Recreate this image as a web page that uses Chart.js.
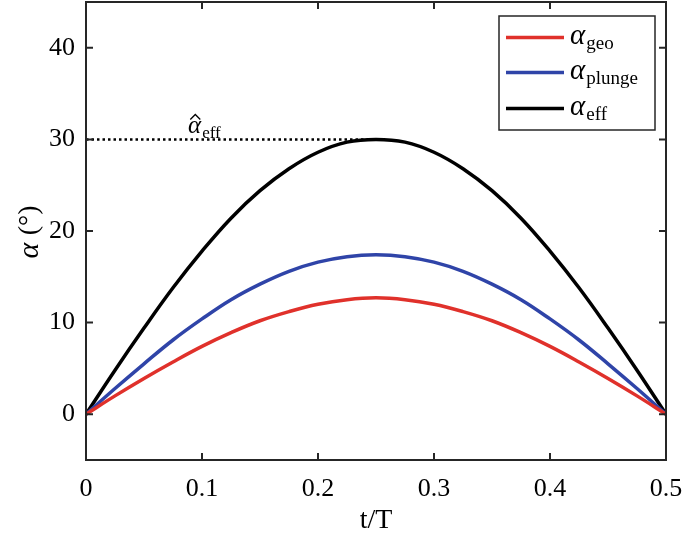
<!DOCTYPE html>
<html>
<head>
<meta charset="utf-8">
<script src="https://cdn.jsdelivr.net/npm/chart.js@4"></script>
<style>
  html, body { margin: 0; padding: 0; background: #fff; }
  #wrap { width: 685px; height: 547px; }
</style>
</head>
<body>
<div id="wrap"><canvas id="chart" width="685" height="547"></canvas></div>
<script>
// time samples over half a period (t/T)
const tValues = [0, 0.025, 0.05, 0.075, 0.1, 0.125, 0.15, 0.175, 0.2, 0.225, 0.25,
                 0.275, 0.3, 0.325, 0.35, 0.375, 0.4, 0.425, 0.45, 0.475, 0.5];
// angles in degrees
const geoValues    = [0, 2.0, 3.9, 5.7, 7.4, 8.9, 10.2, 11.2, 12.0, 12.5, 12.7,
                      12.5, 12.0, 11.2, 10.2, 8.9, 7.4, 5.7, 3.9, 2.0, 0];
const plungeValues = [0, 2.8, 5.5, 8.1, 10.4, 12.5, 14.2, 15.6, 16.6, 17.2, 17.4,
                      17.2, 16.6, 15.6, 14.2, 12.5, 10.4, 8.1, 5.5, 2.8, 0];
const effValues    = [0, 4.8, 9.4, 13.8, 17.8, 21.4, 24.4, 26.8, 28.6, 29.7, 30.0,
                      29.7, 28.6, 26.8, 24.4, 21.4, 17.8, 13.8, 9.4, 4.8, 0];
// dotted line marking the peak effective angle
const peakLineT = [0, 0.25];
const peakLineValues = [30, 30];
const seriesSubs = ['geo', 'plunge', 'eff'];
const xTicks = [0, 0.1, 0.2, 0.3, 0.4, 0.5];
const yTicks = [0, 10, 20, 30, 40];

const FONT = '"Liberation Serif", "DejaVu Serif", serif';
const COLORS = ['#e0312b', '#2f44a8', '#000000'];

const toPoints = (xs, ys) => xs.map((x, i) => ({ x: x, y: ys[i] }));

// draw italic alpha with an upright subscript
function drawAlpha(ctx, x, y, sub, size, hat) {
    ctx.save();
    ctx.fillStyle = '#000';
    ctx.textBaseline = 'alphabetic';
    ctx.textAlign = 'left';
    ctx.font = `italic ${size}px ${FONT}`;
    ctx.fillText('α', x, y);
    const w = ctx.measureText('α').width;
    if (hat) {
        const cx = x + w * 0.55, top = y - size * 0.5;
        ctx.beginPath();
        ctx.strokeStyle = '#000';
        ctx.lineWidth = 1.3;
        ctx.moveTo(cx - 5, top - 1);
        ctx.lineTo(cx, top - 6);
        ctx.lineTo(cx + 5, top - 1);
        ctx.stroke();
    }
    if (sub) {
        ctx.font = `${Math.round(size * 0.66)}px ${FONT}`;
        ctx.fillText(sub, x + w + 1, y + size * 0.2);
    }
    ctx.restore();
}

const framePlugin = {
    id: 'frame',
    afterDraw(chart) {
        const { ctx, chartArea: a, scales } = chart;
        const xs = scales.x, ys = scales.y;
        ctx.save();
        ctx.strokeStyle = '#262626';
        ctx.lineWidth = 2;
        ctx.strokeRect(a.left, a.top, a.right - a.left, a.bottom - a.top);
        ctx.beginPath();
        const tl = 7;
        xTicks.forEach(v => {
            const px = xs.getPixelForValue(v);
            ctx.moveTo(px, a.bottom); ctx.lineTo(px, a.bottom - tl);
            ctx.moveTo(px, a.top); ctx.lineTo(px, a.top + tl);
        });
        yTicks.forEach(v => {
            const py = ys.getPixelForValue(v);
            ctx.moveTo(a.left, py); ctx.lineTo(a.left + tl, py);
            ctx.moveTo(a.right, py); ctx.lineTo(a.right - tl, py);
        });
        ctx.stroke();

        // peak annotation
        drawAlpha(ctx, xs.getPixelForValue(0.088), ys.getPixelForValue(30.7), 'eff', 25, true);

        // legend
        const bx = a.right - 167, by = a.top + 14, bw = 156, bh = 114;
        ctx.fillStyle = '#fff';
        ctx.fillRect(bx, by, bw, bh);
        ctx.lineWidth = 1.5;
        ctx.strokeStyle = '#262626';
        ctx.strokeRect(bx, by, bw, bh);
        const rows = [21.5, 56.5, 92.5];
        seriesSubs.forEach((s, i) => {
            const ly = by + rows[i];
            ctx.beginPath();
            ctx.strokeStyle = COLORS[i];
            ctx.lineWidth = 3.5;
            ctx.moveTo(bx + 7, ly); ctx.lineTo(bx + 65, ly);
            ctx.stroke();
            drawAlpha(ctx, bx + 71, ly + 6, s, 29, false);
        });

        // axis titles
        ctx.fillStyle = '#000';
        ctx.textAlign = 'center';
        ctx.textBaseline = 'middle';
        ctx.font = `28px ${FONT}`;
        ctx.fillText('t/T', (a.left + a.right) / 2, 521);
        ctx.translate(30, 232);
        ctx.rotate(-Math.PI / 2);
        ctx.font = `italic 30px ${FONT}`;
        const aw = ctx.measureText('α ').width;
        ctx.font = `28px ${FONT}`;
        const rest = '(°)';
        const rw = ctx.measureText(rest).width;
        const start = -(aw + rw) / 2;
        ctx.textAlign = 'left';
        ctx.font = `italic 30px ${FONT}`;
        ctx.fillText('α', start, 0);
        ctx.font = `28px ${FONT}`;
        ctx.fillText(rest, start + aw, 0);
        ctx.restore();
    }
};

const lineStyle = (label, pts, color) => ({
    label: label,
    data: pts,
    borderColor: color,
    backgroundColor: color,
    borderWidth: 3.5,
    pointRadius: 0,
    showLine: true,
    fill: false,
    tension: 0.4
});

new Chart(document.getElementById('chart'), {
    type: 'scatter',
    data: {
        datasets: [
            lineStyle('geo', toPoints(tValues, geoValues), COLORS[0]),
            lineStyle('plunge', toPoints(tValues, plungeValues), COLORS[1]),
            lineStyle('eff', toPoints(tValues, effValues), COLORS[2]),
            {
                label: 'peak',
                data: toPoints(peakLineT, peakLineValues),
                borderColor: '#000',
                borderWidth: 2.5,
                borderDash: [2.5, 3],
                pointRadius: 0,
                showLine: true,
                fill: false
            }
        ]
    },
    options: {
        responsive: false,
        animation: false,
        layout: { padding: { top: 2, right: 19, left: 0, bottom: 0 } },
        plugins: { legend: { display: false }, tooltip: { enabled: false } },
        scales: {
            x: {
                type: 'linear', min: 0, max: 0.5,
                afterBuildTicks: s => { s.ticks = xTicks.map(v => ({ value: v })); },
                afterFit: s => { s.height = 87; s.paddingLeft = 0; s.paddingRight = 0; },
                grid: { display: false, drawTicks: false },
                border: { display: false },
                ticks: {
                    color: '#000', padding: 14, maxRotation: 0,
                    font: { family: FONT, size: 26 },
                    callback: v => String(Number(v.toFixed(1)))
                }
            },
            y: {
                type: 'linear', min: -5, max: 45,
                afterBuildTicks: s => { s.ticks = yTicks.map(v => ({ value: v })); },
                afterFit: s => { s.width = 86; s.paddingTop = 0; s.paddingBottom = 0; },
                grid: { display: false, drawTicks: false },
                border: { display: false },
                ticks: {
                    color: '#000', padding: 11,
                    font: { family: FONT, size: 26 }
                }
            }
        }
    },
    plugins: [framePlugin]
});
</script>
</body>
</html>
